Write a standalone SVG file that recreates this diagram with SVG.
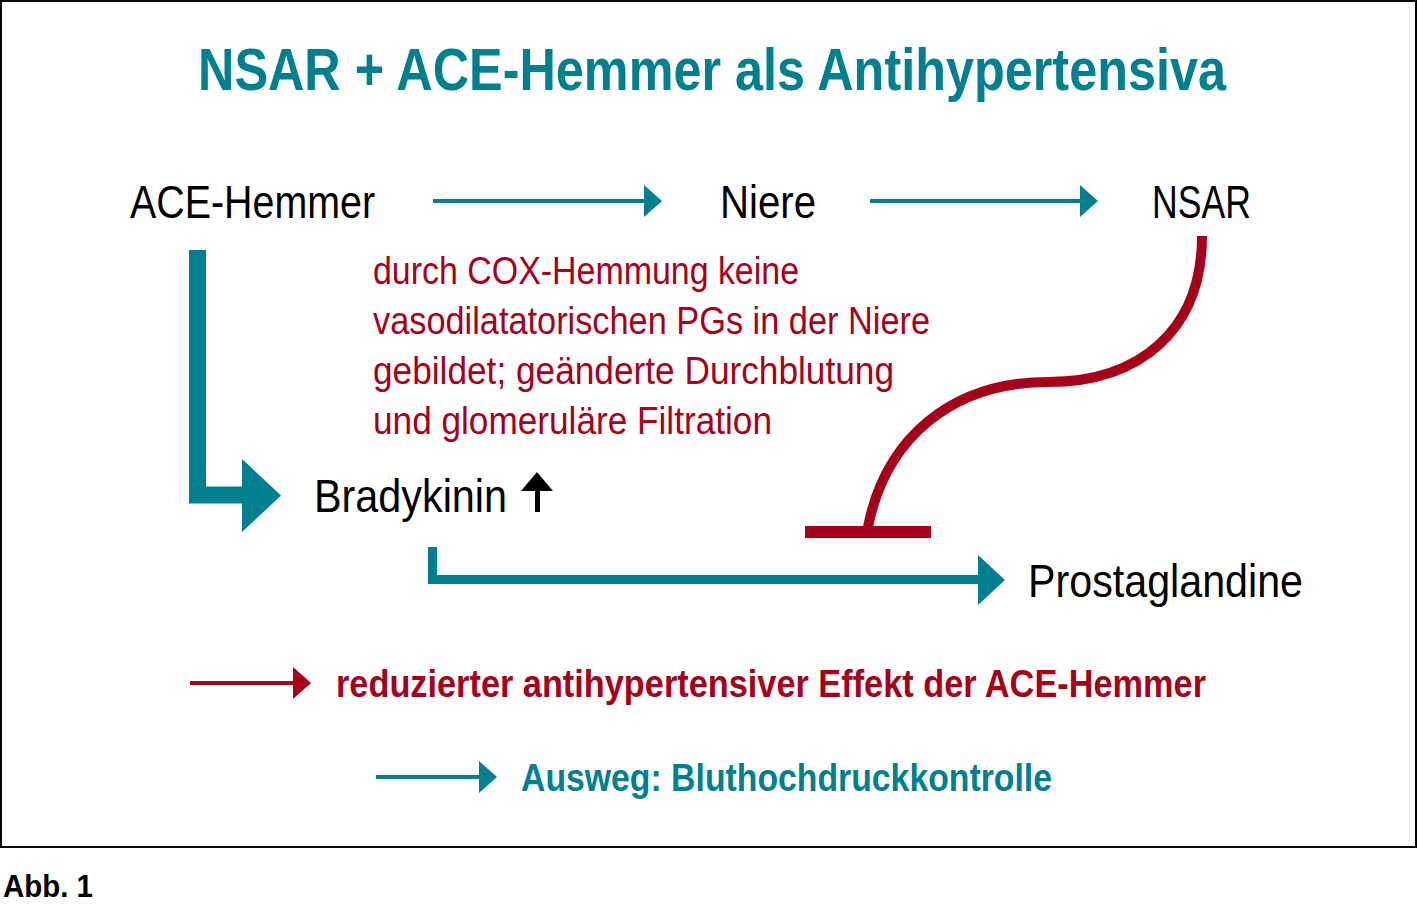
<svg xmlns="http://www.w3.org/2000/svg" width="1417" height="916" viewBox="0 0 1417 916">
<defs>
<style>
.t{font-family:"Liberation Sans",Arial,sans-serif;}
.n{font-size:47px;fill:#000;}
.r{font-size:38px;fill:#a6001a;}
.b{font-weight:bold;}
.teal{fill:#00808f;}
.red{fill:#a6001a;}
.ln{stroke-width:4;fill:none;}
</style>
</defs>
<rect width="1417" height="916" fill="#fff"/>
<rect x="1" y="1" width="1415" height="846" fill="none" stroke="#000" stroke-width="2"/>
<text class="t b teal" x="198" y="90" font-size="59" textLength="1028" lengthAdjust="spacingAndGlyphs">NSAR + ACE-Hemmer als Antihypertensiva</text>

<g id="node-ace"><text class="t n" x="130" y="218" textLength="245" lengthAdjust="spacingAndGlyphs">ACE-Hemmer</text></g>
<g id="node-niere"><text class="t n" x="720" y="218" textLength="96" lengthAdjust="spacingAndGlyphs">Niere</text></g>
<g id="node-nsar"><text class="t n" x="1152" y="218" textLength="99" lengthAdjust="spacingAndGlyphs">NSAR</text></g>
<g id="node-bradykinin">
<text class="t n" x="314" y="512" textLength="193" lengthAdjust="spacingAndGlyphs">Bradykinin</text>
<polygon points="521,491 537,472 553,491" fill="#000"/>
<rect x="535" y="488" width="5" height="24" fill="#000"/>
</g>
<g id="node-prostaglandine"><text class="t n" x="1028" y="597" textLength="275" lengthAdjust="spacingAndGlyphs">Prostaglandine</text></g>
<g id="note-cox">
<text class="t r" x="373" y="284" textLength="426" lengthAdjust="spacingAndGlyphs">durch COX-Hemmung keine</text>
<text class="t r" x="373" y="334" textLength="557" lengthAdjust="spacingAndGlyphs">vasodilatatorischen PGs in der Niere</text>
<text class="t r" x="373" y="384" textLength="521" lengthAdjust="spacingAndGlyphs">gebildet; geänderte Durchblutung</text>
<text class="t r" x="373" y="434" textLength="399" lengthAdjust="spacingAndGlyphs">und glomeruläre Filtration</text>
</g>
<g id="legend-red">
<line x1="190" y1="683" x2="295" y2="683" stroke="#a6001a" class="ln"/>
<polygon points="293,667 311,683 293,699" class="red"/>
<text class="t b red" x="336" y="697" font-size="39" textLength="870" lengthAdjust="spacingAndGlyphs">reduzierter antihypertensiver Effekt der ACE-Hemmer</text>
</g>
<g id="legend-teal">
<line x1="376" y1="777" x2="481" y2="777" stroke="#00808f" class="ln"/>
<polygon points="479,761 497,777 479,793" class="teal"/>
<text class="t b teal" x="521" y="791" font-size="39" textLength="531" lengthAdjust="spacingAndGlyphs">Ausweg: Bluthochdruckkontrolle</text>
</g>

<g id="connectors">
<line x1="433" y1="201" x2="646" y2="201" stroke="#00808f" class="ln"/>
<polygon points="644,185 662,201 644,217" class="teal"/>
<line x1="870" y1="201" x2="1082" y2="201" stroke="#00808f" class="ln"/>
<polygon points="1080,185 1098,201 1080,217" class="teal"/>
<path d="M197.5,250 V495 H245" fill="none" stroke="#00808f" stroke-width="17"/>
<polygon points="242,459 281,495.5 242,532" class="teal"/>
<path d="M432.5,547 V579.5 H982" fill="none" stroke="#00808f" stroke-width="9"/>
<polygon points="978,555 1005,580 978,605" class="teal"/>
<path d="M1202,236 C1202,330 1140,382 1048,382 C950,382 885,440 868,527" fill="none" stroke="#a6001a" stroke-width="10"/>
<rect x="805" y="526" width="126" height="12" class="red"/>
</g>
<text class="t b" x="3" y="897" font-size="32" textLength="90" lengthAdjust="spacingAndGlyphs">Abb. 1</text>
</svg>
